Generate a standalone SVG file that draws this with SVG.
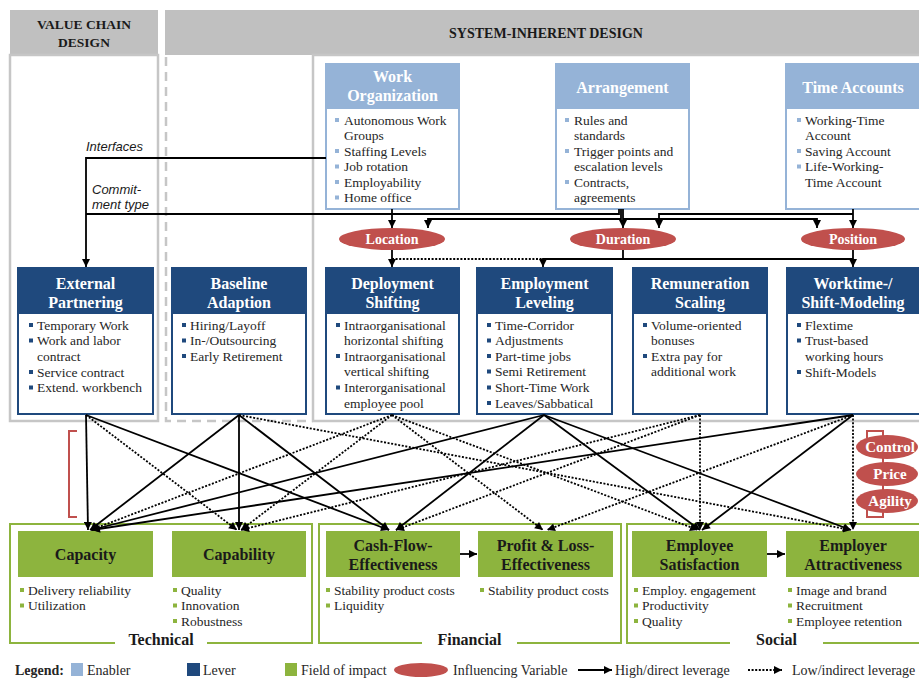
<svg xmlns="http://www.w3.org/2000/svg" width="919" height="680" viewBox="0 0 919 680">
<defs>
<style>
.hd{font-family:"Liberation Serif",serif;font-weight:bold;font-size:14px;fill:#1a1a1a;text-anchor:middle}
.pnl{fill:none;stroke:#c6c6c6;stroke-width:2.5}
.pnd{fill:none;stroke:#c6c6c6;stroke-width:2.5;stroke-dasharray:9 6}
.en{fill:#fff;stroke:#95b3d7;stroke-width:2}
.enh{fill:#95b3d7}
.lv{fill:#fff;stroke:#1f497d;stroke-width:2}
.lvh{fill:#1f497d}
.fi{fill:#8db43e}
.grp{fill:none;stroke:#8db43e;stroke-width:2}
.ht{font-family:"Liberation Serif",serif;font-weight:bold;font-size:16px;fill:#fff;text-anchor:middle}
.ft{font-family:"Liberation Serif",serif;font-weight:bold;font-size:16px;fill:#1a1a1a;text-anchor:middle}
.bt{font-family:"Liberation Serif",serif;font-size:13.5px;fill:#262626}
.b1{fill:#95b3d7}.b2{fill:#1f497d}.b3{fill:#8db43e}
.iv{fill:#c0504d}
.ivt{font-family:"Liberation Serif",serif;font-weight:bold;font-size:14px;fill:#fff;text-anchor:middle}
.it{font-family:"Liberation Sans",sans-serif;font-style:italic;font-size:13px;fill:#1a1a1a}
.c{fill:none;stroke:#000;stroke-width:1.8}
.d{fill:none;stroke:#000;stroke-width:1.8;stroke-dasharray:2 1.6}
.lg{font-family:"Liberation Serif",serif;font-size:14px;fill:#262626}
.gl{font-family:"Liberation Serif",serif;font-weight:bold;font-size:16px;fill:#1a1a1a;text-anchor:middle}
</style>
<marker id="ah" viewBox="0 0 10 10" refX="10" refY="5" markerWidth="9" markerHeight="8" markerUnits="userSpaceOnUse" orient="auto"><path d="M0,0 L10,5 L0,10 z" fill="#000"/></marker>
</defs>
<rect width="919" height="680" fill="#fff"/>

<g id="panels">
<rect x="10" y="10" width="148" height="45" fill="#c0c0c0"/>
<text class="hd" x="84" y="29" style="font-size:13.5px">VALUE CHAIN</text>
<text class="hd" x="84" y="47" style="font-size:13.5px">DESIGN</text>
<rect x="165" y="10" width="760" height="45" fill="#c0c0c0"/>
<text class="hd" x="546" y="38">SYSTEM-INHERENT DESIGN</text>
<rect class="pnl" x="10" y="55" width="148" height="366"/>
<path class="pnd" d="M166,57 V421 H313"/>
<rect class="pnl" x="313" y="55" width="620" height="366"/>
<path d="M77,431 H69 V517 H77" fill="none" stroke="#c0504d" stroke-width="2"/>
<path d="M867,438 V431 H883 V517 H867 V510" fill="none" stroke="#c0504d" stroke-width="2"/>
</g>

<g id="work-organization">
<rect class="en" x="326" y="64" width="133" height="145"/>
<rect class="enh" x="326" y="64" width="133" height="45"/>
<text class="ht" x="392.5" y="82">Work</text>
<text class="ht" x="392.5" y="101">Organization</text>
<rect class="b1" x="335" y="118" width="4" height="4"/><text class="bt" x="344" y="124.5">Autonomous Work</text>
<text class="bt" x="344" y="140">Groups</text>
<rect class="b1" x="335" y="149" width="4" height="4"/><text class="bt" x="344" y="155.5">Staffing Levels</text>
<rect class="b1" x="335" y="164.5" width="4" height="4"/><text class="bt" x="344" y="171">Job rotation</text>
<rect class="b1" x="335" y="180" width="4" height="4"/><text class="bt" x="344" y="186.5">Employability</text>
<rect class="b1" x="335" y="195.5" width="4" height="4"/><text class="bt" x="344" y="202">Home office</text>
</g>

<g id="arrangement">
<rect class="en" x="556" y="64" width="133" height="145"/>
<rect class="enh" x="556" y="64" width="133" height="45"/>
<text class="ht" x="622.5" y="92.5">Arrangement</text>
<rect class="b1" x="565" y="118" width="4" height="4"/><text class="bt" x="574" y="124.5">Rules and</text>
<text class="bt" x="574" y="140">standards</text>
<rect class="b1" x="565" y="149" width="4" height="4"/><text class="bt" x="574" y="155.5">Trigger points and</text>
<text class="bt" x="574" y="171">escalation levels</text>
<rect class="b1" x="565" y="180" width="4" height="4"/><text class="bt" x="574" y="186.5">Contracts,</text>
<text class="bt" x="574" y="202">agreements</text>
</g>

<g id="time-accounts">
<rect class="en" x="786" y="64" width="135" height="145"/>
<rect class="enh" x="786" y="64" width="135" height="45"/>
<text class="ht" x="853" y="92.5">Time Accounts</text>
<rect class="b1" x="797" y="118" width="4" height="4"/><text class="bt" x="805" y="124.5">Working-Time</text>
<text class="bt" x="805" y="140">Account</text>
<rect class="b1" x="797" y="149" width="4" height="4"/><text class="bt" x="805" y="155.5">Saving Account</text>
<rect class="b1" x="797" y="164.5" width="4" height="4"/><text class="bt" x="805" y="171">Life-Working-</text>
<text class="bt" x="805" y="186.5">Time Account</text>
</g>

<g id="location"><ellipse class="iv" cx="392" cy="239" rx="53" ry="11"/><text class="ivt" x="392" y="244">Location</text></g>
<g id="duration"><ellipse class="iv" cx="623" cy="239" rx="53" ry="11"/><text class="ivt" x="623" y="244">Duration</text></g>
<g id="position"><ellipse class="iv" cx="853" cy="239" rx="52" ry="11"/><text class="ivt" x="853" y="244">Position</text></g>

<g id="external-partnering">
<rect class="lv" x="18" y="268" width="135" height="146"/>
<rect class="lvh" x="18" y="268" width="135" height="46"/>
<text class="ht" x="85.5" y="288.5">External</text>
<text class="ht" x="85.5" y="307.5">Partnering</text>
<rect class="b2" x="29" y="323" width="4" height="4"/><text class="bt" x="37" y="329.5">Temporary Work</text>
<rect class="b2" x="29" y="338.5" width="4" height="4"/><text class="bt" x="37" y="345">Work and labor</text>
<text class="bt" x="37" y="360.5">contract</text>
<rect class="b2" x="29" y="370" width="4" height="4"/><text class="bt" x="37" y="376.5">Service contract</text>
<rect class="b2" x="29" y="385.5" width="4" height="4"/><text class="bt" x="37" y="392">Extend. workbench</text>
</g>

<g id="baseline-adaption">
<rect class="lv" x="172" y="268" width="134" height="146"/>
<rect class="lvh" x="172" y="268" width="134" height="46"/>
<text class="ht" x="239" y="288.5">Baseline</text>
<text class="ht" x="239" y="307.5">Adaption</text>
<rect class="b2" x="182" y="323" width="4" height="4"/><text class="bt" x="190" y="329.5">Hiring/Layoff</text>
<rect class="b2" x="182" y="338.5" width="4" height="4"/><text class="bt" x="190" y="345">In-/Outsourcing</text>
<rect class="b2" x="182" y="354" width="4" height="4"/><text class="bt" x="190" y="360.5">Early Retirement</text>
</g>

<g id="deployment-shifting">
<rect class="lv" x="326" y="268" width="133" height="146"/>
<rect class="lvh" x="326" y="268" width="133" height="46"/>
<text class="ht" x="392.5" y="288.5">Deployment</text>
<text class="ht" x="392.5" y="307.5">Shifting</text>
<rect class="b2" x="336" y="323" width="4" height="4"/><text class="bt" x="344" y="329.5">Intraorganisational</text>
<text class="bt" x="344" y="345">horizontal shifting</text>
<rect class="b2" x="336" y="354" width="4" height="4"/><text class="bt" x="344" y="360.5">Intraorganisational</text>
<text class="bt" x="344" y="376">vertical shifting</text>
<rect class="b2" x="336" y="385.5" width="4" height="4"/><text class="bt" x="344" y="392">Interorganisational</text>
<text class="bt" x="344" y="407.5">employee pool</text>
</g>

<g id="employment-leveling">
<rect class="lv" x="477" y="268" width="135" height="146"/>
<rect class="lvh" x="477" y="268" width="135" height="46"/>
<text class="ht" x="544.5" y="288.5">Employment</text>
<text class="ht" x="544.5" y="307.5">Leveling</text>
<rect class="b2" x="487" y="323" width="4" height="4"/><text class="bt" x="495" y="329.5">Time-Corridor</text>
<rect class="b2" x="487" y="338.5" width="4" height="4"/><text class="bt" x="495" y="345">Adjustments</text>
<rect class="b2" x="487" y="354" width="4" height="4"/><text class="bt" x="495" y="360.5">Part-time jobs</text>
<rect class="b2" x="487" y="369.5" width="4" height="4"/><text class="bt" x="495" y="376">Semi Retirement</text>
<rect class="b2" x="487" y="385.5" width="4" height="4"/><text class="bt" x="495" y="392">Short-Time Work</text>
<rect class="b2" x="487" y="401" width="4" height="4"/><text class="bt" x="495" y="407.5">Leaves/Sabbatical</text>
</g>

<g id="remuneration-scaling">
<rect class="lv" x="633" y="268" width="134" height="146"/>
<rect class="lvh" x="633" y="268" width="134" height="46"/>
<text class="ht" x="700" y="288.5">Remuneration</text>
<text class="ht" x="700" y="307.5">Scaling</text>
<rect class="b2" x="643" y="323" width="4" height="4"/><text class="bt" x="651" y="329.5">Volume-oriented</text>
<text class="bt" x="651" y="345">bonuses</text>
<rect class="b2" x="643" y="354" width="4" height="4"/><text class="bt" x="651" y="360.5">Extra pay for</text>
<text class="bt" x="651" y="376">additional work</text>
</g>

<g id="worktime-shift-modeling">
<rect class="lv" x="787" y="268" width="135" height="146"/>
<rect class="lvh" x="787" y="268" width="135" height="46"/>
<text class="ht" x="853" y="288.5">Worktime-/</text>
<text class="ht" x="853" y="307.5">Shift-Modeling</text>
<rect class="b2" x="797" y="323" width="4" height="4"/><text class="bt" x="805" y="329.5">Flextime</text>
<rect class="b2" x="797" y="338.5" width="4" height="4"/><text class="bt" x="805" y="345">Trust-based</text>
<text class="bt" x="805" y="360.5">working hours</text>
<rect class="b2" x="797" y="370" width="4" height="4"/><text class="bt" x="805" y="376.5">Shift-Models</text>
</g>

<g id="control"><ellipse class="iv" cx="887" cy="447" rx="31" ry="12"/><text class="ivt" x="890" y="452" style="font-size:15px">Control</text></g>
<g id="price"><ellipse class="iv" cx="887" cy="474" rx="31" ry="12"/><text class="ivt" x="890" y="479" style="font-size:15px">Price</text></g>
<g id="agility"><ellipse class="iv" cx="887" cy="501" rx="31" ry="12"/><text class="ivt" x="890" y="506" style="font-size:15px">Agility</text></g>

<g id="group-technical">
<path class="grp" d="M115,643 H10 V524 H312 V643 H207"/>
<text class="gl" x="161" y="645">Technical</text>
</g>
<g id="group-financial">
<path class="grp" d="M422,643 H319 V524 H621 V643 H517"/>
<text class="gl" x="469.5" y="645">Financial</text>
</g>
<g id="group-social">
<path class="grp" d="M730,643 H627 V524 H930 M823,643 H930"/>
<text class="gl" x="776.5" y="645">Social</text>
</g>

<g id="capacity">
<rect class="fi" x="18" y="531" width="135" height="46"/>
<text class="ft" x="85.5" y="560">Capacity</text>
<rect class="b3" x="20" y="588" width="4" height="4"/><text class="bt" x="28" y="594.5">Delivery reliability</text>
<rect class="b3" x="20" y="603.5" width="4" height="4"/><text class="bt" x="28" y="610">Utilization</text>
</g>
<g id="capability">
<rect class="fi" x="172" y="531" width="134" height="46"/>
<text class="ft" x="239" y="560">Capability</text>
<rect class="b3" x="173" y="588" width="4" height="4"/><text class="bt" x="181" y="594.5">Quality</text>
<rect class="b3" x="173" y="603.5" width="4" height="4"/><text class="bt" x="181" y="610">Innovation</text>
<rect class="b3" x="173" y="619" width="4" height="4"/><text class="bt" x="181" y="625.5">Robustness</text>
</g>
<g id="cash-flow-effectiveness">
<rect class="fi" x="326" y="531" width="134" height="46"/>
<text class="ft" x="393" y="550.5">Cash-Flow-</text>
<text class="ft" x="393" y="569.5">Effectiveness</text>
<rect class="b3" x="326" y="588" width="4" height="4"/><text class="bt" x="334" y="594.5">Stability product costs</text>
<rect class="b3" x="326" y="603.5" width="4" height="4"/><text class="bt" x="334" y="610">Liquidity</text>
</g>
<g id="profit-loss-effectiveness">
<rect class="fi" x="478" y="531" width="135" height="46"/>
<text class="ft" x="545.5" y="550.5">Profit &amp; Loss-</text>
<text class="ft" x="545.5" y="569.5">Effectiveness</text>
<rect class="b3" x="480" y="588" width="4" height="4"/><text class="bt" x="488" y="594.5">Stability product costs</text>
</g>
<g id="employee-satisfaction">
<rect class="fi" x="632" y="531" width="135" height="46"/>
<text class="ft" x="699.5" y="550.5">Employee</text>
<text class="ft" x="699.5" y="569.5">Satisfaction</text>
<rect class="b3" x="634" y="588" width="4" height="4"/><text class="bt" x="642" y="594.5">Employ. engagement</text>
<rect class="b3" x="634" y="603.5" width="4" height="4"/><text class="bt" x="642" y="610">Productivity</text>
<rect class="b3" x="634" y="619" width="4" height="4"/><text class="bt" x="642" y="625.5">Quality</text>
</g>
<g id="employer-attractiveness">
<rect class="fi" x="786" y="531" width="136" height="46"/>
<text class="ft" x="853" y="550.5">Employer</text>
<text class="ft" x="853" y="569.5">Attractiveness</text>
<rect class="b3" x="788" y="588" width="4" height="4"/><text class="bt" x="796" y="594.5">Image and brand</text>
<rect class="b3" x="788" y="603.5" width="4" height="4"/><text class="bt" x="796" y="610">Recruitment</text>
<rect class="b3" x="788" y="619" width="4" height="4"/><text class="bt" x="796" y="625.5">Employee retention</text>
</g>

<g id="connectors">
<path class="c" d="M326,158 H86 V267" marker-end="url(#ah)"/>
<path class="c" d="M619,209 V214 H86"/>
<path class="c" d="M392,209 V228" marker-end="url(#ah)"/>
<path class="c" d="M621,209 V219 H428 V228" marker-end="url(#ah)"/>
<path class="c" d="M623,209 V228" marker-end="url(#ah)"/>
<path class="c" d="M623,219 H817 V228" marker-end="url(#ah)"/>
<path class="c" d="M853,209 V228" marker-end="url(#ah)"/>
<path class="c" d="M853,214 H659 V228" marker-end="url(#ah)"/>
<path class="c" d="M392,250 V267" marker-end="url(#ah)"/>
<path class="d" d="M392,259 H543"/>
<path class="c" d="M623,250 V259 H543 V267" marker-end="url(#ah)"/>
<path class="c" d="M623,259 H853"/>
<path class="c" d="M853,250 V267" marker-end="url(#ah)"/>
<text class="it" x="86" y="151">Interfaces</text>
<text class="it" x="92" y="194">Commit-</text>
<text class="it" x="92" y="209">ment type</text>

<path class="c" d="M86,415 L88,530" marker-end="url(#ah)"/>
<path class="c" d="M86,415 L389,530" marker-end="url(#ah)"/>
<path class="d" d="M86,415 L237,530" marker-end="url(#ah)"/>
<path class="c" d="M239,415 L90,530" marker-end="url(#ah)"/>
<path class="c" d="M239,415 L239,530" marker-end="url(#ah)"/>
<path class="c" d="M239,415 L389,530" marker-end="url(#ah)"/>
<path class="d" d="M239,415 L851,530" marker-end="url(#ah)"/>
<path class="d" d="M392,415 L91,530" marker-end="url(#ah)"/>
<path class="d" d="M392,415 L241,530" marker-end="url(#ah)"/>
<path class="d" d="M392,415 L543,530" marker-end="url(#ah)"/>
<path class="d" d="M392,415 L698,530" marker-end="url(#ah)"/>
<path class="c" d="M544,415 L91,530" marker-end="url(#ah)"/>
<path class="c" d="M544,415 L396,530" marker-end="url(#ah)"/>
<path class="c" d="M544,415 L700,530" marker-end="url(#ah)"/>
<path class="c" d="M544,415 L851,530" marker-end="url(#ah)"/>
<path class="d" d="M700,415 L241,530" marker-end="url(#ah)"/>
<path class="d" d="M700,415 L396,530" marker-end="url(#ah)"/>
<path class="d" d="M700,415 L700,530" marker-end="url(#ah)"/>
<path class="c" d="M853,415 L92,530" marker-end="url(#ah)"/>
<path class="c" d="M853,415 L702,530" marker-end="url(#ah)"/>
<path class="d" d="M853,415 L547,530" marker-end="url(#ah)"/>
<path class="d" d="M853,415 L853,530" marker-end="url(#ah)"/>
<path class="c" d="M460,554 H477" marker-end="url(#ah)"/>
<path class="c" d="M767,554 H785" marker-end="url(#ah)"/>
</g>

<g id="legend">
<text class="lg" x="15" y="675" style="font-weight:bold">Legend:</text>
<rect class="b1" x="71" y="663" width="12" height="13"/>
<text class="lg" x="87" y="675">Enabler</text>
<rect class="b2" x="187" y="663" width="13" height="13"/>
<text class="lg" x="203" y="675">Lever</text>
<rect class="b3" x="285" y="663" width="12" height="13"/>
<text class="lg" x="301" y="675">Field of impact</text>
<ellipse class="iv" cx="421" cy="670" rx="27" ry="7"/>
<text class="lg" x="453" y="675">Influencing Variable</text>
<path class="c" d="M578,670 H612" marker-end="url(#ah)"/>
<text class="lg" x="615" y="675">High/direct leverage</text>
<path class="d" d="M748,670 H782" marker-end="url(#ah)"/>
<text class="lg" x="792" y="675">Low/indirect leverage</text>
</g>
</svg>
